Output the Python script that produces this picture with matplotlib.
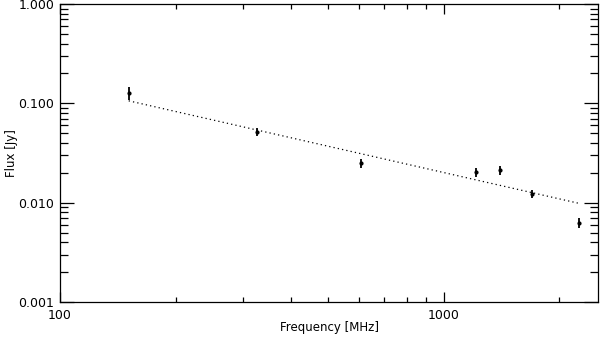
import matplotlib
matplotlib.use('Agg')
import matplotlib.pyplot as plt
import matplotlib.ticker as mticker
import numpy as np

freq = np.array([151, 325, 610, 1210, 1400, 1700, 2250])
flux = np.array([0.127, 0.052, 0.0248, 0.0203, 0.0212, 0.0123, 0.0063])
flux_err = np.array([0.018, 0.005, 0.0025, 0.002, 0.002, 0.0012, 0.0007])

# power-law fit S = S0 * (nu/nu0)^alpha
fit_nu0 = 151.0
fit_s0 = 0.106
fit_alpha = -0.88

plt.rcParams['font.family'] = ['DejaVu Sans']
fig = plt.figure(figsize=(6.0, 3.39), dpi=100)
ax = fig.add_axes([60 / 600, 37 / 339, 538 / 600, 298 / 339])

ax.errorbar(freq, flux, yerr=flux_err, fmt='o', ms=2, color='k', ecolor='k',
            elinewidth=1.3, capsize=0, mec='k', mfc='k')
nu = np.linspace(freq[0], freq[-1], 200)
ax.plot(nu, fit_s0 * (nu / fit_nu0) ** fit_alpha, color='k', linestyle=(0, (1, 2.5)),
        linewidth=0.9)

ax.set_xscale('log')
ax.set_yscale('log')
ax.set_xlim(100, 2520)
ax.set_ylim(0.001, 1.0)

ax.xaxis.set_major_locator(mticker.FixedLocator([100, 1000]))
ax.xaxis.set_major_formatter(mticker.FixedFormatter(['100', '1000']))
ax.xaxis.set_minor_locator(mticker.LogLocator(base=10, subs=np.arange(2, 10)))
ax.xaxis.set_minor_formatter(mticker.NullFormatter())
ax.yaxis.set_major_locator(mticker.FixedLocator([0.001, 0.01, 0.1, 1.0]))
ax.yaxis.set_major_formatter(mticker.FixedFormatter(['0.001', '0.010', '0.100', '1.000']))
ax.yaxis.set_minor_locator(mticker.LogLocator(base=10, subs=np.arange(2, 10)))
ax.yaxis.set_minor_formatter(mticker.NullFormatter())

ax.tick_params(which='both', direction='in', top=True, right=True, width=0.9,
               labelsize=9, colors='k')
ax.tick_params(axis='y', which='major', length=10, pad=4)
ax.tick_params(axis='y', which='minor', length=6)
ax.tick_params(axis='x', which='major', length=7, pad=5)
ax.tick_params(axis='x', which='minor', length=3.5)
for s in ax.spines.values():
    s.set_linewidth(0.9)

ax.set_xlabel('Frequency [MHz]', fontsize=8.5, va='center')
ax.set_ylabel('Flux [Jy]', fontsize=8.5, va='center')
ax.xaxis.set_label_coords(0.5, -25 / 298)
ax.yaxis.set_label_coords(-49 / 538, 0.5)

fig.savefig('out.png', dpi=100)
